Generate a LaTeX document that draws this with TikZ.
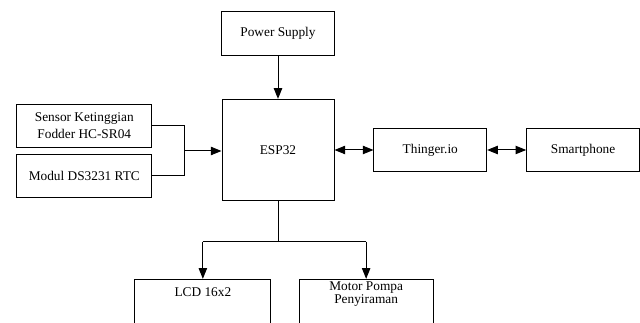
\documentclass[tikz,border=0pt]{standalone}
\usepackage{fontspec}
\setmainfont{Liberation Serif}
\usetikzlibrary{arrows.meta}
\begin{document}
\begin{tikzpicture}[x=0.75pt,y=-0.75pt, line width=0.75pt,
  txt/.style={inner sep=0pt, align=center, font=\fontsize{10pt}{12.5pt}\selectfont},
  box/.style={draw, txt},
  arr/.style={-{Triangle[length=8pt,width=6.3pt]}},
  darr/.style={{Triangle[length=8pt,width=6.3pt]}-{Triangle[length=8pt,width=6.3pt]}}]
\useasboundingbox (0,0) rectangle (640,323);
\clip (0,0) rectangle (640,323);
\fill[white] (0,0) rectangle (640,323);
\node[box, minimum width=84.45pt, minimum height=33pt] (power) at (278,33.7) {Power Supply};
\node[box, minimum width=84pt, minimum height=75.5pt] (esp) at (278,149.7) {ESP32};
\node[box, minimum width=101.5pt, minimum height=32.5pt] (sensor) at (84.3,125.7) {Sensor Ketinggian\\Fodder HC-SR04};
\node[box, minimum width=101.5pt, minimum height=32.5pt] (modul) at (84.3,175.7) {Modul DS3231 RTC};
\node[box, minimum width=84.5pt, minimum height=32.5pt] (thinger) at (430.3,150) {Thinger.io};
\node[box, minimum width=84.6pt, minimum height=32.5pt] (smart) at (583.1,150) {Smartphone};
\node[box, minimum width=101.8pt, minimum height=45pt] (lcd) at (202.85,309.3) {};
\node[box, minimum width=100.7pt, minimum height=45pt] (motor) at (366.15,309.3) {};
\node[txt] (lcdt) at (202.85,292) {LCD 16x2};
\node[txt, font=\fontsize{10pt}{10.3pt}\selectfont] (motort) at (366.15,294) {Motor Pompa\\Penyiraman};
\draw[arr] (power) -- (esp);
\coordinate (j) at (184,151);
\draw (sensor.east) -| (j);
\draw (modul.east) -| (j);
\draw[arr] (j) -- (j -| esp.west);
\draw[darr] (esp.east |- thinger) -- (thinger.west);
\draw[darr] (thinger) -- (smart);
\coordinate (b) at (278,241.7);
\draw (esp.south) -- (b);
\draw (lcd.north |- b) -- (motor.north |- b);
\draw[arr] (lcd.north |- b) -- (lcd.north);
\draw[arr] (motor.north |- b) -- (motor.north);
\end{tikzpicture}
\end{document}
